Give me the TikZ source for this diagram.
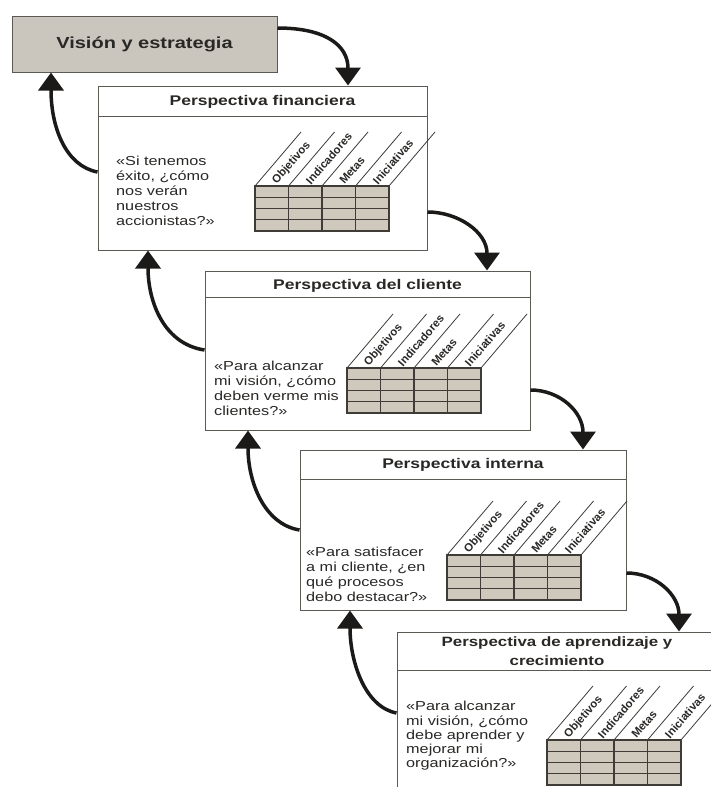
\documentclass[tikz,border=0pt]{standalone}
\usepackage{fontspec}
\setmainfont{Liberation Sans}
\newfontfamily\bodyfont[FakeStretch=1.25]{Liberation Sans}
\newfontfamily\labelfont{Liberation Sans}
\usetikzlibrary{arrows.meta}

\definecolor{ink}{HTML}{2A2826}
\definecolor{frame}{HTML}{5C5853}
\definecolor{visionfill}{HTML}{CAC5BD}
\definecolor{cellfill}{HTML}{CEC8BD}
\definecolor{gridline}{HTML}{3F3B36}
\definecolor{arrowink}{HTML}{1B1A18}

\tikzset{
  x=1pt, y=1pt,
  panel/.style={draw=frame, line width=1pt, fill=white, rectangle, inner sep=0pt},
  visionbox/.style={draw=frame, line width=1pt, fill=visionfill, rectangle, inner sep=0pt,
    minimum width=265pt, minimum height=56pt, text=ink,
    font=\bodyfont\bfseries\fontsize{16}{19}\selectfont},
  headtext/.style={text=ink, font=\bodyfont\bfseries\fontsize{14}{19}\selectfont,
    inner sep=0pt, align=center, anchor=base},
  bodytext/.style={text=ink, font=\bodyfont\fontsize{13}{15}\selectfont,
    inner sep=0pt, align=left, anchor=west},
  separator/.style={draw=frame, line width=1pt},
  collabel/.style={text=ink, font=\labelfont\bfseries\fontsize{11.3}{13}\selectfont,
    inner sep=0pt, rotate=49, anchor=west},
  cellgrid/.style={draw=gridline, line width=1.1pt},
  slantline/.style={draw=gridline, line width=0.8pt},
  cyclearrow/.style={draw=arrowink, line width=3.5pt,
    -{Triangle[width=25pt,length=18pt]}},
  % four-column indicator table: origin at its top-left corner
  bsc table/.pic={
    \fill[cellfill] (0,0) rectangle (134,-45);
    \foreach \yy in {-11.25,-22.5,-33.75} \draw[cellgrid] (0,\yy) -- (134,\yy);
    \foreach \xx in {33.5,67,100.5} \draw[cellgrid] (\xx,0) -- (\xx,-45);
    \draw[cellgrid] (0,0) rectangle (134,-45);
    \foreach \xx in {0,33.5,67,100.5,134} \draw[slantline] (\xx,0) -- ++(46,54);
    \node[collabel] (-obj) at (19.5,3.5) {Objetivos};
    \node[collabel] (-ind) at (53,3.5) {Indicadores};
    \node[collabel] (-met) at (86.5,3.5) {Metas};
    \node[collabel] (-ini) at (120,3.5) {Iniciativas};
  }
}

\begin{document}
\begin{tikzpicture}
\useasboundingbox (0,0) rectangle (711,-787);
\clip (0,0) rectangle (711,-787);

% strategy box
\node[visionbox] (vis) at (144.5,-44) {Visión y estrategia};

% financial perspective
\node[panel, minimum width=329pt, minimum height=164pt] (fin) at (262.5,-168) {};
\draw[separator] ([yshift=-31pt]fin.north west) -- ([yshift=-31pt]fin.north east);
\node[headtext] (finh) at ([yshift=-20pt]fin.north) {Perspectiva financiera};
\node[bodytext] (fint) at (116,-191) {«Si tenemos\\éxito, ¿cómo\\nos verán\\nuestros\\accionistas?»};
\pic (fintab) at (255,-186) {bsc table};

% customer perspective
\node[panel, minimum width=325pt, minimum height=159pt] (cli) at (367.5,-350.5) {};
\draw[separator] ([yshift=-27pt]cli.north west) -- ([yshift=-27pt]cli.north east);
\node[headtext] (clih) at ([yshift=-19pt]cli.north) {Perspectiva del cliente};
\node[bodytext] (clit) at (214,-388) {«Para alcanzar\\mi visión, ¿cómo\\deben verme mis\\clientes?»};
\pic (clitab) at (347,-368) {bsc table};

% internal process perspective
\node[panel, minimum width=326pt, minimum height=160pt] (int) at (463,-530) {};
\draw[separator] ([yshift=-30pt]int.north west) -- ([yshift=-30pt]int.north east);
\node[headtext] (inth) at ([yshift=-19pt]int.north) {Perspectiva interna};
\node[bodytext] (intt) at (306,-574) {«Para satisfacer\\a mi cliente, ¿en\\qué procesos\\debo destacar?»};
\pic (inttab) at (447,-555) {bsc table};

% learning and growth perspective
\node[panel, minimum width=320pt, minimum height=168pt] (apr) at (557,-716) {};
\draw[separator] ([yshift=-39pt]apr.north west) -- ([yshift=-39pt]apr.north east);
\node[headtext, font=\bodyfont\bfseries\fontsize{13.5}{19}\selectfont] (aprh) at ([yshift=-34pt]apr.north) {Perspectiva de aprendizaje y\\crecimiento};
\node[bodytext, font=\bodyfont\fontsize{13}{14.3}\selectfont] (aprt) at (406,-736) {«Para alcanzar\\mi visión, ¿cómo\\debe aprender y\\mejorar mi\\organización?»};
\pic (aprtab) at (547,-740) {bsc table};

% downward links
\draw[cyclearrow] (vis.east |- 0,-28) .. controls (325,-28) and (348,-45) .. (fin.north -| 348,0);
\draw[cyclearrow] (fin.east |- 0,-212) .. controls (458,-212) and (487,-232) .. (cli.north -| 487,0);
\draw[cyclearrow] (cli.east |- 0,-390) .. controls (560,-390) and (583,-412) .. (int.north -| 583,0);
\draw[cyclearrow] (int.east |- 0,-573) .. controls (656,-573) and (679,-595) .. (apr.north -| 679,0);

% feedback links
\draw[cyclearrow] (fin.west |- 0,-172) .. controls (66,-166) and (51,-128) .. (vis.south -| 51,0);
\draw[cyclearrow] (cli.west |- 0,-350) .. controls (164,-344) and (148,-302) .. (fin.south -| 148,0);
\draw[cyclearrow] (int.west |- 0,-530) .. controls (264,-524) and (248,-482) .. (cli.south -| 248,0);
\draw[cyclearrow] (apr.west |- 0,-713) .. controls (365,-707) and (350,-662) .. (int.south -| 350,0);
\end{tikzpicture}
\end{document}
